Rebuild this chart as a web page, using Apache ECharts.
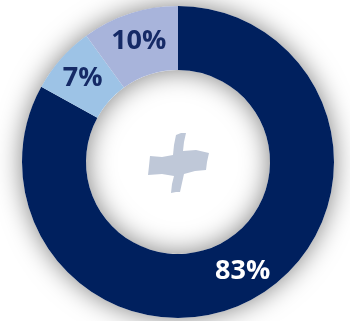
<!DOCTYPE html>
<html>
<head>
<meta charset="utf-8">
<script src="https://cdn.jsdelivr.net/npm/echarts@6/dist/echarts.min.js"></script>
<style>
  html, body { margin: 0; padding: 0; background: #fff; }
  #chart { width: 350px; height: 321px; }
</style>
</head>
<body>
<div id="chart"></div>
<script>
// slice data, clockwise from 12 o'clock
const names = ["A", "B", "C"];
const values = [83, 7, 10];
const colors = ["#00205e", "#9dc3e6", "#a8b4db"];
const labelColors = ["#ffffff", "#152a66", "#152a66"];

const chart = echarts.init(document.getElementById("chart"));

const total = values.reduce((a, b) => a + b, 0);
const center = [178, 162];
const radius = [92, 156];

// slanted cross logo in the hole
const crossPoints = [
  [176, 135], [181, 133], [186, 133], [184, 142], [183, 151],
  [196, 150], [209, 153], [207, 162], [206, 170],
  [195, 171], [184, 174], [182, 183], [180, 192],
  [176, 192], [171, 193], [172, 184], [174, 176],
  [162, 174], [148, 175], [149, 166], [150, 156],
  [162, 157], [173, 155], [174, 145],
];

chart.setOption({
  backgroundColor: "#fff",
  animation: false,
  graphic: [
    {
      type: "polygon",
      z: 10,
      shape: { points: crossPoints },
      style: { fill: "#bfc8d8" },
    },
  ],
  series: [
    {
      // soft shadow ring behind the slices
      type: "pie",
      silent: true,
      center,
      radius,
      label: { show: false },
      labelLine: { show: false },
      data: [{ value: total }],
      itemStyle: {
        color: "#ffffff",
        shadowBlur: 26,
        shadowColor: "rgba(0,0,0,0.5)",
      },
    },
    {
      type: "pie",
      center,
      radius,
      startAngle: 90,
      clockwise: true,
      label: {
        show: true,
        position: "inside",
        formatter: (p) => p.value + "%",
        fontFamily: "Open Sans",
        fontWeight: "bold",
        fontSize: 27,
      },
      labelLine: { show: false },
      data: values.map((v, i) => ({
        name: names[i],
        value: v,
        itemStyle: { color: colors[i] },
        label: { color: labelColors[i] },
      })),
    },
  ],
});
</script>
</body>
</html>
